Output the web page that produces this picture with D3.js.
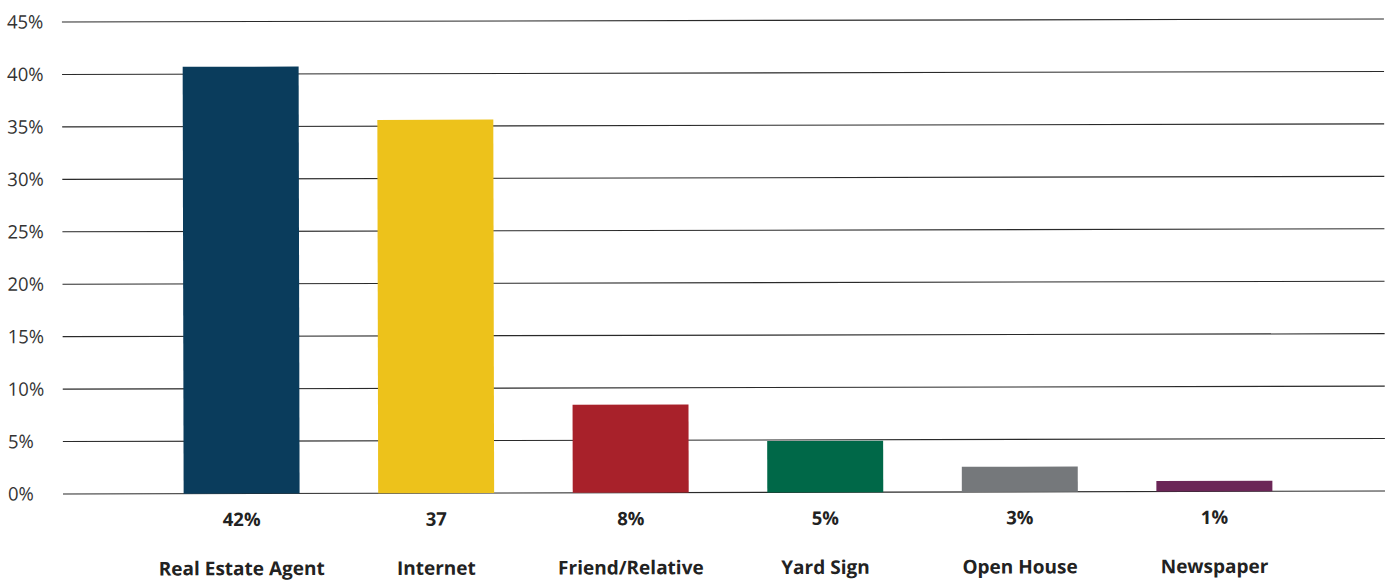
<!DOCTYPE html>
<html><head><meta charset="utf-8">
<script src="https://cdn.jsdelivr.net/npm/d3@7"></script>
<style>html,body{margin:0;padding:0;background:#fff;}svg{display:block;}</style>
</head><body>
<script>
const categories = ["Real Estate Agent","Internet","Friend/Relative","Yard Sign","Open House","Newspaper"];
const values = [40.7, 35.6, 8.4, 4.9, 2.4, 1.0];
const valueLabels = ["42%","37","8%","5%","3%","1%"];
const colors = ["#0a3c5c","#edc21b","#a8212a","#006848","#75787b","#6b2657"];
const tickValues = [0,5,10,15,20,25,30,35,40,45];

const W = 1385, H = 580;
const svg = d3.select("body").append("svg").attr("width", W).attr("height", H);
const m = {left: 63, top: 22, bottom: 86};
const g = svg.append("g").attr("transform", `rotate(-0.13, 63, 494)`);

const x = d3.scaleBand().domain(categories).range([m.left, 1393]).paddingInner(0.404).paddingOuter(0.62);
const y = d3.scaleLinear().domain([0,45]).range([H - m.bottom, m.top]);

// gridlines
g.append("g").selectAll("line").data(tickValues).join("line")
  .attr("x1", m.left).attr("x2", W).attr("y1", d => y(d)).attr("y2", d => y(d))
  .attr("stroke", "#2a2a2a").attr("stroke-width", 1.1);

// axis labels
g.append("g").selectAll("text").data(tickValues).join("text")
  .attr("x", 8).attr("y", d => y(d)).attr("dy", "0.35em")
  .attr("font-family", "'Open Sans', sans-serif").attr("font-size", 18.5)
  .attr("fill", "#333").text(d => d + "%");

// bars
g.append("g").selectAll("rect").data(categories).join("rect")
  .attr("x", d => x(d)).attr("width", x.bandwidth())
  .attr("y", (d,i) => y(values[i])).attr("height", (d,i) => y(0) - y(values[i]))
  .attr("fill", (d,i) => colors[i]);

// value labels
g.append("g").selectAll("text").data(categories).join("text")
  .attr("x", d => x(d) + x.bandwidth()/2).attr("y", 520).attr("dy","0.35em")
  .attr("text-anchor","middle").attr("font-family","'Open Sans', sans-serif")
  .attr("font-weight","bold").attr("font-size",18.5).attr("fill","#222")
  .text((d,i) => valueLabels[i]);

// category labels
g.append("g").selectAll("text").data(categories).join("text")
  .attr("x", d => x(d) + x.bandwidth()/2).attr("y", 569).attr("dy","0.35em")
  .attr("text-anchor","middle").attr("font-family","'Open Sans', sans-serif")
  .attr("font-weight","bold").attr("font-size",19).attr("fill","#222")
  .text(d => d);
</script>
</body></html>
